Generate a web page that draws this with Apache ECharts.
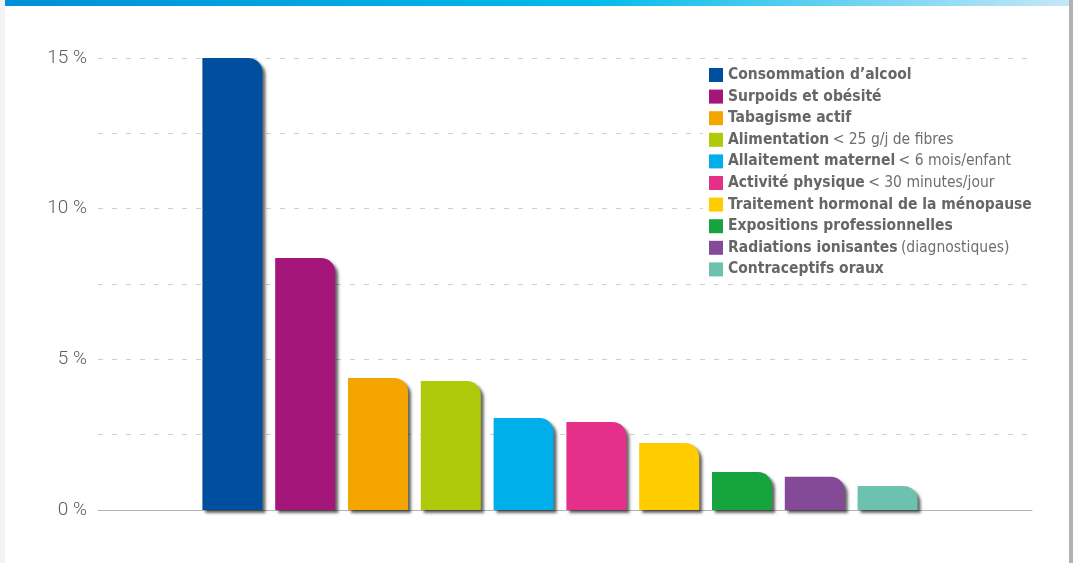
<!DOCTYPE html>
<html>
<head>
<meta charset="utf-8">
<script src="https://cdn.jsdelivr.net/npm/echarts@6/dist/echarts.min.js"></script>
<style>
  html, body { margin: 0; padding: 0; background: #fff; }
  #chart { width: 1073px; height: 563px; }
</style>
</head>
<body>
<div id="chart"></div>
<script>
// risk factors: bold part and plain part of each legend label
const factors = [
  "Consommation d\u2019alcool",
  "Surpoids et obésité",
  "Tabagisme actif",
  "Alimentation",
  "Allaitement maternel",
  "Activité physique",
  "Traitement hormonal de la ménopause",
  "Expositions professionnelles",
  "Radiations ionisantes",
  "Contraceptifs oraux"
];
const factorNotes = ["", "", "", "< 25 g/j de fibres", "< 6 mois/enfant", "< 30 minutes/jour", "", "", "(diagnostiques)", ""];
// share of cases (%)
const shares = [15.0, 8.36, 4.38, 4.28, 3.05, 2.92, 2.22, 1.26, 1.1, 0.8];
const yTicks = [0, 5, 10, 15];

const palette = ["#004f9f", "#a5167b", "#f5a500", "#afca0b", "#00aeea", "#e5308a", "#ffcc00", "#16a43f", "#844997", "#6cc2af"];

const myChart = echarts.init(document.getElementById("chart"));

const seriesArr = factors.map((name, i) => {
  return {
    name: name,
    type: "bar",
    xAxisIndex: 1,
    yAxisIndex: 1,
    barWidth: 60,
    barGap: "-100%",
    color: palette[i],
    data: shares.map((v, j) => (j === i ? v : "-")),
    itemStyle: {
      borderRadius: [0, 14, 0, 0],
      shadowColor: "rgba(0,0,0,0.6)",
      shadowBlur: 3,
      shadowOffsetX: 3,
      shadowOffsetY: 3
    },
    emphasis: { disabled: true }
  };
});

const legendFont = "DejaVu Sans Condensed";

myChart.setOption({
  animation: false,
  backgroundColor: "#fff",
  graphic: [
    { type: "rect", shape: { x: 0, y: 0, width: 5, height: 563 }, style: { fill: "#f3f3f3" } },
    {
      type: "rect",
      shape: { x: 5, y: 0, width: 1064, height: 6 },
      style: {
        fill: new echarts.graphic.LinearGradient(0, 0, 1, 0, [
          { offset: 0, color: "#008fd8" },
          { offset: 0.55, color: "#00bbea" },
          { offset: 1, color: "#c6e7f8" }
        ])
      }
    },
    { type: "rect", shape: { x: 1069, y: 0, width: 4, height: 563 }, style: { fill: "#b2b2b2" } }
  ],
  grid: [
    { left: 98, right: 41, top: 58, bottom: 53 },
    { left: 196, width: 728, top: 58, bottom: 53 }
  ],
  legend: {
    orient: "vertical",
    left: 703,
    top: 64,
    padding: [3, 6, 3, 6],
    backgroundColor: "#fff",
    itemWidth: 14,
    itemHeight: 14,
    itemGap: 5.6,
    icon: "rect",
    data: factors,
    selectedMode: false,
    formatter: (name) => {
      const i = factors.indexOf(name);
      return factorNotes[i] ? "{b|" + name + "} {n|" + factorNotes[i] + "}" : "{b|" + name + "}";
    },
    textStyle: {
      lineHeight: 14,
      rich: {
        b: { fontFamily: legendFont, fontWeight: "bold", fontSize: 15.5, lineHeight: 14, color: "#666" },
        n: { fontFamily: legendFont, fontSize: 15.5, lineHeight: 14, color: "#6e6e6e" }
      }
    }
  },
  xAxis: [
    {
      gridIndex: 0,
      type: "category",
      data: [""],
      axisLine: { show: true, lineStyle: { color: "#b5b5b5", width: 1 } },
      axisTick: { show: false },
      axisLabel: { show: false }
    },
    {
      gridIndex: 1,
      type: "category",
      data: factors,
      show: false
    }
  ],
  yAxis: [
    {
      gridIndex: 0,
      type: "value",
      min: 0,
      max: 15,
      interval: 2.5,
      axisLine: { show: false },
      axisTick: { show: false },
      axisLabel: {
        margin: 11,
        fontFamily: "Roboto",
        fontWeight: 300,
        fontSize: 19,
        color: "#5e5e5e",
        formatter: (v) => (yTicks.indexOf(v) >= 0 ? v + " %" : "")
      },
      splitLine: { lineStyle: { color: "#cfcfcf", type: [5, 9], width: 1 } }
    },
    {
      gridIndex: 1,
      type: "value",
      min: 0,
      max: 15,
      show: false
    }
  ],
  series: seriesArr
});
</script>
</body>
</html>
